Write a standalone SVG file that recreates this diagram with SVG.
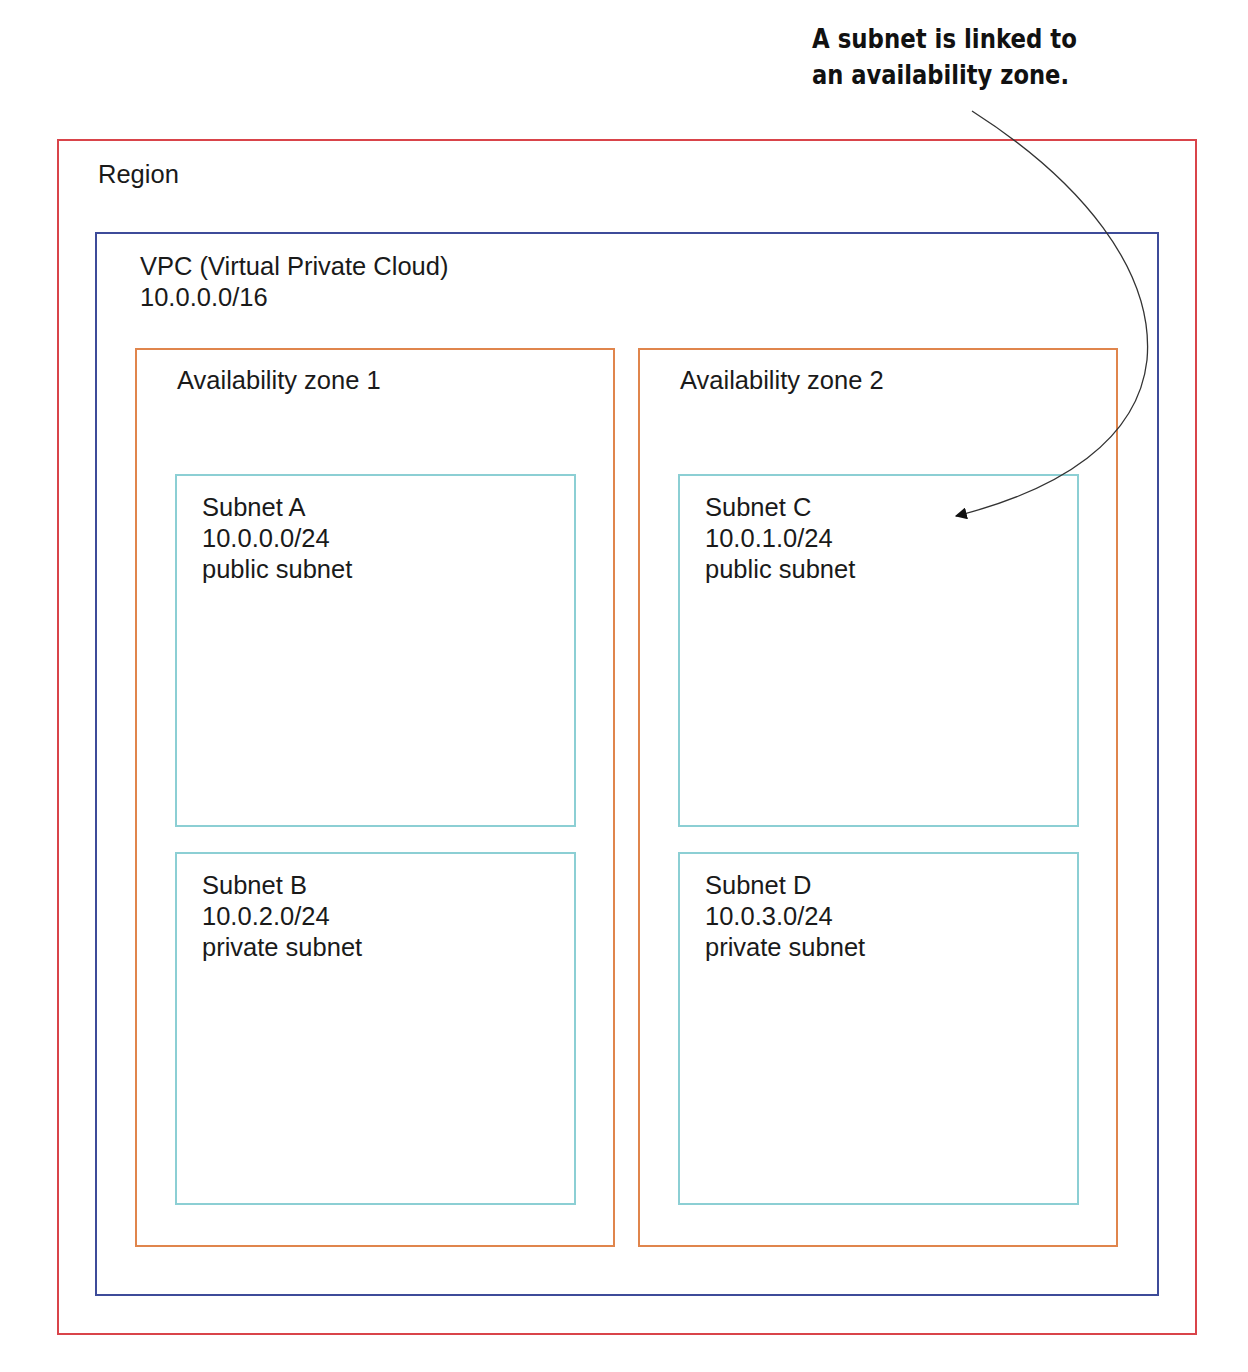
<svg xmlns="http://www.w3.org/2000/svg" width="1248" height="1372" viewBox="0 0 1248 1372">
<style>
text{font-family:"Liberation Sans",Arial,sans-serif;font-size:25.5px;fill:#1a1a1a}
.region{fill:none;stroke:#d9444a;stroke-width:2}
.vpc{fill:none;stroke:#3d4b99;stroke-width:2}
.az{fill:none;stroke:#e0854c;stroke-width:2}
.sub{fill:none;stroke:#8ccfd4;stroke-width:2}
.note{font-family:"DejaVu Sans",sans-serif;font-weight:bold;font-size:27px;fill:#111}
.conn{fill:none;stroke:#333;stroke-width:1.3}
</style>
<defs>
<marker id="arr" viewBox="0 0 10 10" refX="9" refY="5" markerWidth="12" markerHeight="12" markerUnits="userSpaceOnUse" orient="auto">
<path d="M0,0 L10,5 L0,10 z" fill="#111"/>
</marker>
</defs>
<rect width="1248" height="1372" fill="#fff"/>
<g id="region"><rect class="region" x="58" y="140" width="1138" height="1194"/><text x="98" y="183">Region</text></g>
<g id="vpc"><rect class="vpc" x="96" y="233" width="1062" height="1062"/><text x="140" y="275">VPC (Virtual Private Cloud)</text><text x="140" y="306">10.0.0.0/16</text></g>
<g id="az1"><rect class="az" x="136" y="349" width="478" height="897"/><text x="177" y="389">Availability zone 1</text></g>
<g id="az2"><rect class="az" x="639" y="349" width="478" height="897"/><text x="680" y="389">Availability zone 2</text></g>
<g id="subnetA"><rect class="sub" x="176" y="475" width="399" height="351"/><text x="202" y="516">Subnet A</text><text x="202" y="547">10.0.0.0/24</text><text x="202" y="578">public subnet</text></g>
<g id="subnetB"><rect class="sub" x="176" y="853" width="399" height="351"/><text x="202" y="894">Subnet B</text><text x="202" y="925">10.0.2.0/24</text><text x="202" y="956">private subnet</text></g>
<g id="subnetC"><rect class="sub" x="679" y="475" width="399" height="351"/><text x="705" y="516">Subnet C</text><text x="705" y="547">10.0.1.0/24</text><text x="705" y="578">public subnet</text></g>
<g id="subnetD"><rect class="sub" x="679" y="853" width="399" height="351"/><text x="705" y="894">Subnet D</text><text x="705" y="925">10.0.3.0/24</text><text x="705" y="956">private subnet</text></g>
<g id="note"><text class="note" x="812" y="48" textLength="265" lengthAdjust="spacingAndGlyphs">A subnet is linked to</text><text class="note" x="812" y="84" textLength="257" lengthAdjust="spacingAndGlyphs">an availability zone.</text></g>
<g id="connectors"><path class="conn" d="M972,111 C1080,180 1155,270 1147,360 C1138,440 1060,490 956,516" marker-end="url(#arr)"/></g>
</svg>
